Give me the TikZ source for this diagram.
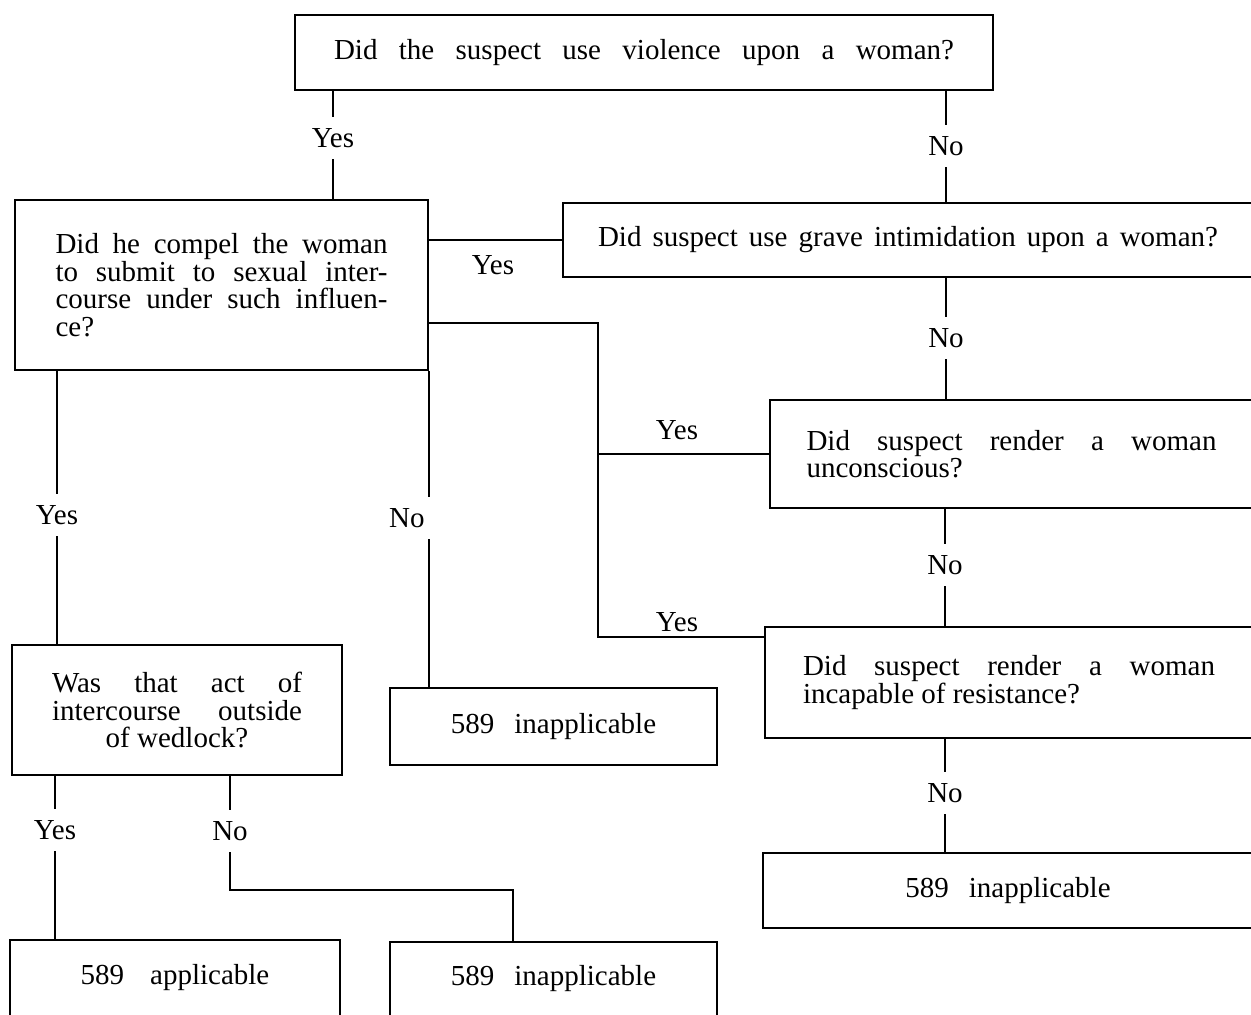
\documentclass[tikz,border=0pt]{standalone}
\usepackage{fontspec}
\setmainfont{Liberation Serif}
\usetikzlibrary{positioning}
\newcommand{\spread}[2]{\makebox[#1][s]{#2}}

\begin{document}
\begin{tikzpicture}[x=0.5pt,y=-0.5pt,
		every node/.style={font=\fontsize{14.5pt}{13.75pt}\selectfont},
		qbox/.style={draw,line width=1.1pt,inner sep=0pt},
		lbl/.style={inner xsep=3pt,inner ysep=5.5pt},
		link/.style={line width=0.7pt}]
			\useasboundingbox (0,0) rectangle (1251,1014);
			\node[qbox,minimum width=349pt,minimum height=37.5pt] (viol) at (644,52.5) {\spread{310pt}{Did the suspect use violence upon a woman?}};
			\node[qbox,minimum width=206.5pt,minimum height=85pt,align=left] (comp) at (221.5,285) {\spread{166pt}{Did he compel the woman}\\\spread{166pt}{to submit to sexual inter-}\\\spread{166pt}{course under such influen-}\\ce?};
			\node[qbox,minimum width=345pt,minimum height=37pt] (intim) at (908,240) {\spread{310pt}{Did suspect use grave intimidation upon a woman?}};
			\node[qbox,minimum width=241.5pt,minimum height=54pt,align=left] (uncon) at (1011.5,454) {\spread{205pt}{Did suspect render a woman}\\unconscious?};
			\node[qbox,minimum width=244pt,minimum height=55.5pt,align=left] (incap) at (1009,682.5) {\spread{206pt}{Did suspect render a woman}\\incapable of resistance?};
			\node[qbox,minimum width=245pt,minimum height=37.5pt] (inapR) at (1008,890.5) {589\hspace{10pt}inapplicable};
			\node[qbox,minimum width=165pt,minimum height=65pt,align=center] (wed) at (177,710) {\spread{125pt}{Was that act of}\\\spread{125pt}{intercourse outside}\\of wedlock?};
			\node[qbox,minimum width=163.5pt,minimum height=38.5pt] (inapM) at (553.5,726.5) {589\hspace{10pt}inapplicable};
			\node[qbox,minimum width=165pt,minimum height=38pt] (appl) at (175,978) {589\hspace{13pt}applicable};
			\node[qbox,minimum width=163.5pt,minimum height=37pt] (inapB) at (553.5,979) {589\hspace{10pt}inapplicable};
			\node[lbl] (yesA) at (333,138) {Yes};
			\node[lbl] (noA) at (946,146) {No};
			\node[lbl] (yesB) at (493,265) {Yes};
			\node[lbl] (noB) at (946,338) {No};
			\node[lbl] (yesC) at (677,430) {Yes};
			\node[lbl] (noC) at (945,565) {No};
			\node[lbl] (yesD) at (677,622) {Yes};
			\node[lbl] (noD) at (945,793) {No};
			\node[lbl] (yesE) at (57,515) {Yes};
			\node[lbl,anchor=east] (noE) at (431,518) {No};
			\node[lbl] (yesF) at (55,830) {Yes};
			\node[lbl] (noF) at (230,831) {No};
			\coordinate (bus) at (598,323);
			\coordinate (tap) at ([yshift=-5.5pt]incap.north west);
			\coordinate (drop) at (513,890);
			\draw[link] (viol.south -| yesA) -- (yesA) -- (comp.north -| yesA);
			\draw[link] (viol.south -| noA) -- (noA) -- (intim.north -| noA);
			\draw[link] (intim.west) -- (intim.west -| comp.east);
			\draw[link] (intim.south -| noB) -- (noB) -- (uncon.north -| noB);
			\draw[link] (uncon.south -| noC) -- (noC) -- (incap.north -| noC);
			\draw[link] (incap.south -| noD) -- (noD) -- (inapR.north -| noD);
			\draw[link] (uncon.west) -- (uncon.west -| bus);
			\draw[link] (comp.east |- bus) -- (bus) -- (bus |- tap) -- (tap);
			\draw[link] (comp.south -| yesE) -- (yesE) -- (wed.north -| yesE);
			\draw[link] (comp.south east) -- (comp.south east |- noE.north);
			\draw[link] (comp.south east |- noE.south) -- (inapM.north -| comp.south east);
			\draw[link] (wed.south -| yesF) -- (yesF) -- (appl.north -| yesF);
			\draw[link] (wed.south -| noF) -- (noF) -- (noF |- drop) -- (drop) -- (drop |- inapB.north);
		\end{tikzpicture}
\end{document}
